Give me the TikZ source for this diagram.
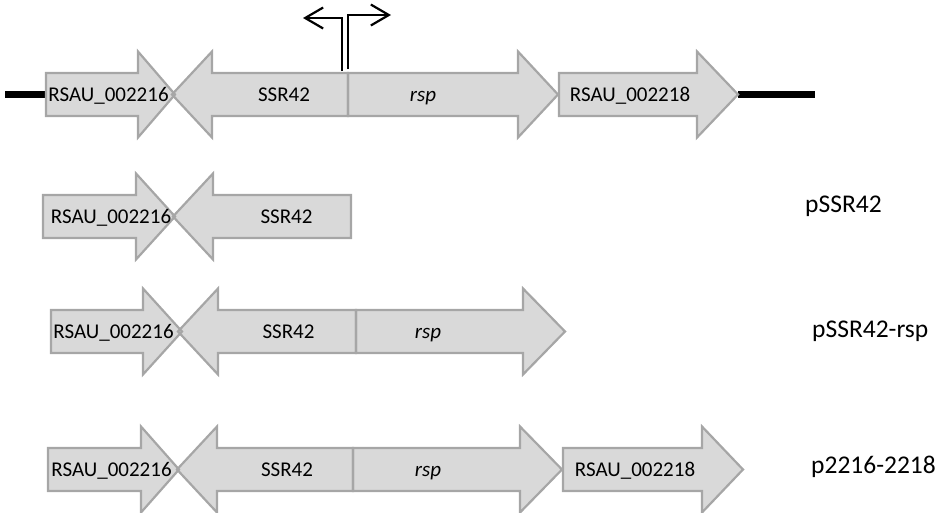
\documentclass[tikz,border=0pt]{standalone}
\usepackage{fontspec}
\setmainfont{Carlito}
\usetikzlibrary{arrows.meta}
\definecolor{GeneFill}{RGB}{217,217,217}
\definecolor{GeneEdge}{RGB}{166,166,166}

\begin{document}
\begin{tikzpicture}[x=1pt,y=-1pt,
        genefill/.style={fill=GeneFill},
        geneedge/.style={draw=GeneEdge,line width=2.2pt,line join=miter},
        dna/.style={draw=black,line width=7pt},
        prom/.style={draw=black,line width=2.2pt,
                     -{Straight Barb[length=18pt,width=21pt]}},
        gname/.style={font=\fontsize{21}{25}\selectfont,anchor=base,inner sep=0pt},
        cname/.style={font=\fontsize{25.5}{30}\selectfont,anchor=base west,inner sep=0pt}
      ]
        \useasboundingbox (0,0) rectangle (942,512);
        % body start / head base / tip / centre line
        \def\genes{46/138/175/94.5, 348/212/172/94.5, 348/518/558/94.5, 559/697/738/94.5,
                   43/136/175/216.5, 351/213/173/216.5,
                   51/143/182/331.5, 356/218/178/331.5, 356/523/565/331.5,
                   48/141/179/469.5, 353/217/177/469.5, 353/520/562/469.5, 563/702/743/469.5}
        \draw[dna] (5,94.5) -- (46,94.5);
        \draw[dna] (738,94.5) -- (815,94.5);
        \foreach \xa/\xb/\xc/\yc in \genes
          \fill[genefill] (\xa,\yc-21.5) -- (\xb,\yc-21.5) -- (\xb,\yc-43) -- (\xc,\yc)
            -- (\xb,\yc+43) -- (\xb,\yc+21.5) -- (\xa,\yc+21.5) -- cycle;
        \foreach \xa/\xb/\xc/\yc in \genes
          \draw[geneedge] (\xa,\yc-21.5) -- (\xb,\yc-21.5) -- (\xb,\yc-43) -- (\xc,\yc)
            -- (\xb,\yc+43) -- (\xb,\yc+21.5) -- (\xa,\yc+21.5) -- cycle;
        % promoters
        \draw[prom] (342,71) -- (342,18) -- (303,18);
        \draw[prom] (348,69) -- (348,15) -- (391,15);
        % gene names
        \node[gname] (a1) at (108.5,101) {RSAU\_002216};
        \node[gname] (s1) at (284,101) {SSR42};
        \node[gname] (r1) at (423,101) {\itshape rsp};
        \node[gname] (b1) at (630,101) {RSAU\_002218};
        \node[gname] (a2) at (111,223.5) {RSAU\_002216};
        \node[gname] (s2) at (286.5,223.5) {SSR42};
        \node[gname] (a3) at (113.5,338.5) {RSAU\_002216};
        \node[gname] (s3) at (288.5,338.5) {SSR42};
        \node[gname] (r3) at (428,338.5) {\itshape rsp};
        \node[gname] (a4) at (111.5,476.5) {RSAU\_002216};
        \node[gname] (s4) at (287,476.5) {SSR42};
        \node[gname] (r4) at (428,476.5) {\itshape rsp};
        \node[gname] (b4) at (635,476.5) {RSAU\_002218};
        % constructs
        \node[cname] (c2) at (805,212) {pSSR42};
        \node[cname] (c3) at (812,337) {pSSR42-rsp};
        \node[cname] (c4) at (811,473) {p2216-2218};
      \end{tikzpicture}
\end{document}
